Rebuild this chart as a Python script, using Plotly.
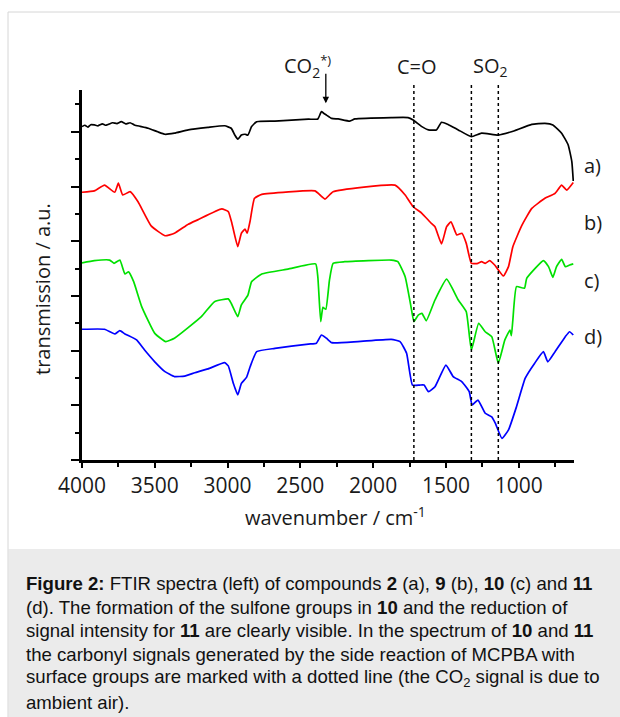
import plotly.graph_objects as go

# ---- data ----
wn_a = [4000, 3980, 3960, 3940, 3915, 3890, 3860, 3840, 3820, 3790, 3760, 3730, 3700, 3670, 3640, 3600,
        3545, 3480, 3430, 3365, 3270, 3135, 3020, 2975, 2950, 2930, 2905, 2880, 2860, 2835, 2800, 2675,
        2445, 2380, 2355, 2340, 2320, 2285, 2240, 2160, 2125, 1875, 1760, 1725, 1665, 1620, 1565, 1530,
        1485, 1415, 1325, 1255, 1140, 1050, 910, 820, 765, 705, 660, 635, 625]
t_a = [12.19, 12.24, 12.17, 12.26, 12.25, 12.22, 12.29, 12.24, 12.27, 12.33, 12.30, 12.37, 12.29, 12.33,
       12.25, 12.20, 12.13, 12.00, 11.91, 11.95, 12.07, 12.16, 12.22, 12.13, 11.88, 11.73, 11.88, 11.91,
       11.88, 12.19, 12.37, 12.39, 12.46, 12.47, 12.74, 12.68, 12.61, 12.49, 12.47, 12.39, 12.47, 12.52,
       12.52, 12.43, 12.19, 12.07, 12.07, 12.35, 12.27, 12.07, 11.82, 11.95, 11.88, 12.00, 12.27, 12.31,
       12.25, 11.95, 11.52, 10.91, 10.20]

wn_b = [4000, 3915, 3845, 3775, 3750, 3720, 3670, 3615, 3525, 3430, 3365, 3270, 3205, 3040, 2995, 2970,
        2930, 2905, 2880, 2865, 2845, 2815, 2765, 2400, 2365, 2330, 2275, 1850, 1780, 1725, 1665, 1600,
        1575, 1530, 1495, 1465, 1425, 1390, 1360, 1325, 1280, 1255, 1230, 1200, 1165, 1105, 1070, 1040,
        980, 910, 820, 750, 705, 670, 625]
t_b = [9.79, 9.84, 10.05, 9.79, 10.12, 9.69, 9.81, 9.44, 8.56, 8.20, 8.29, 8.62, 8.78, 9.18, 9.08, 8.65,
       7.80, 8.29, 8.44, 8.29, 8.74, 9.57, 9.71, 9.84, 9.69, 9.54, 9.81, 10.05, 9.69, 9.26, 9.02, 8.65,
       8.53, 7.90, 8.53, 8.71, 8.23, 8.29, 7.92, 7.19, 7.19, 7.25, 7.19, 7.29, 7.13, 6.73, 7.07, 7.80,
       8.56, 9.20, 9.57, 9.75, 10.05, 9.87, 10.15]

wn_c = [4000, 3915, 3810, 3780, 3740, 3705, 3680, 3645, 3590, 3500, 3425, 3365, 3180, 3090, 2995, 2975,
        2930, 2905, 2860, 2835, 2765, 2585, 2395, 2380, 2360, 2345, 2325, 2300, 2275, 2195, 1875, 1830,
        1780, 1740, 1720, 1690, 1665, 1635, 1575, 1495, 1415, 1360, 1325, 1275, 1230, 1185, 1140, 1095,
        1060, 1050, 1040, 1015, 960, 945, 830, 795, 765, 740, 705, 680, 650, 625]
t_c = [7.21, 7.29, 7.31, 7.19, 7.31, 6.80, 6.88, 6.52, 5.61, 4.63, 4.33, 4.45, 5.24, 5.79, 5.89, 5.73,
       5.24, 5.67, 6.03, 6.52, 6.80, 6.98, 7.17, 6.70, 5.06, 5.58, 5.51, 6.58, 7.19, 7.25, 7.31, 7.25,
       6.70, 5.61, 5.06, 5.30, 5.36, 5.09, 5.85, 6.61, 5.85, 5.42, 4.02, 5.00, 4.69, 4.51, 3.54, 4.39,
       4.75, 4.55, 5.12, 6.34, 6.28, 6.64, 7.29, 7.07, 6.68, 7.07, 7.34, 7.07, 7.13, 7.17]

wn_d = [4000, 3845, 3775, 3740, 3705, 3625, 3570, 3500, 3430, 3365, 3295, 3225, 3135, 3020, 2995, 2960,
        2930, 2905, 2870, 2845, 2800, 2675, 2445, 2390, 2355, 2320, 2285, 2105, 1875, 1815, 1770, 1730,
        1680, 1650, 1620, 1575, 1500, 1450, 1390, 1340, 1320, 1280, 1230, 1185, 1160, 1115, 1070, 1015,
        955, 890, 830, 800, 750, 680, 650, 625]
t_d = [4.78, 4.78, 4.61, 4.73, 4.61, 4.39, 4.02, 3.59, 3.23, 3.05, 3.07, 3.19, 3.33, 3.56, 3.44, 2.80,
       2.38, 2.80, 3.02, 3.41, 3.96, 4.08, 4.24, 4.27, 4.57, 4.45, 4.29, 4.33, 4.41, 4.33, 3.90, 2.74,
       2.74, 2.74, 2.50, 2.68, 3.47, 3.05, 2.86, 2.50, 2.01, 2.19, 1.71, 1.58, 1.34, 0.79, 1.10, 1.95,
       2.99, 3.54, 3.96, 3.59, 3.96, 4.51, 4.69, 4.57]

series = [("a)", wn_a, t_a, "#000000"), ("b)", wn_b, t_b, "#ff0000"),
          ("c)", wn_c, t_c, "#00e000"), ("d)", wn_d, t_d, "#0000ff")]
series_label_y = [10.78, 8.67, 6.58, 4.50]

marker_lines = [1720, 1325, 1140]  # dotted lines (C=O, SO2, SO2)
co2_pos = 2325

caption_lines = [
    "<b>Figure 2:</b> FTIR spectra (left) of compounds <b>2</b> (a), <b>9</b> (b), <b>10</b> (c) and <b>11</b>",
    "(d). The formation of the sulfone groups in <b>10</b> and the reduction of",
    "signal intensity for <b>11</b> are clearly visible. In the spectrum of <b>10</b> and <b>11</b>",
    "the carbonyl signals generated by the side reaction of MCPBA with",
    "surface groups are marked with a dotted line (the CO<sub>2</sub> signal is due to",
    "ambient air).",
]

# ---- figure ----
L, R, T, B = 82, 574, 90, 460
W, H = 620, 717
pw, ph = R - L, B - T

def px(x):
    return (x - L) / pw

def py(y):
    return (B - y) / ph

AX_FONT = "Open Sans, DejaVu Sans, sans-serif"
fig = go.Figure()
for name, x, y, c in series:
    fig.add_trace(go.Scatter(x=x, y=y, mode="lines", name=name,
                             line=dict(color=c, width=1.7, shape="spline", smoothing=0.4),
                             showlegend=False))

shapes = []
# caption box + frame
shapes.append(dict(type="rect", xref="paper", yref="paper", x0=px(8.5), x1=px(640), y0=py(549), y1=py(730),
                   fillcolor="#ebebeb", line=dict(width=0), layer="below"))
shapes.append(dict(type="line", xref="paper", yref="paper", x0=px(8), x1=px(640), y0=py(12), y1=py(12),
                   line=dict(color="#d6d6d6", width=1)))
shapes.append(dict(type="line", xref="paper", yref="paper", x0=px(8), x1=px(8), y0=py(12), y1=py(730),
                   line=dict(color="#d6d6d6", width=1)))
for xv in marker_lines:
    shapes.append(dict(type="line", xref="x", yref="paper", x0=xv, x1=xv, y0=0, y1=py(83),
                       line=dict(color="black", width=1.5, dash="dot")))

ann = []
lab_font = dict(family=AX_FONT, size=20, color="#1a1a1a")
ann.append(dict(xref="paper", yref="paper", x=px(307), y=py(67),
                text="CO<sub>2</sub><sup><span style='font-size:13px'>*)</span></sup>",
                showarrow=False, font=lab_font, xanchor="center", yanchor="middle"))
ann.append(dict(xref="paper", yref="paper", x=px(417), y=py(67), text="C=O",
                showarrow=False, font=lab_font, xanchor="center", yanchor="middle"))
ann.append(dict(xref="paper", yref="paper", x=px(490), y=py(67), text="SO<sub>2</sub>",
                showarrow=False, font=lab_font, xanchor="center", yanchor="middle"))
ann.append(dict(xref="x", yref="y", x=co2_pos, y=13.04, ax=0, ay=-31, text="", showarrow=True,
                arrowhead=2, arrowsize=1, arrowwidth=1.3, arrowcolor="black"))
for (name, *_), yv in zip(series, series_label_y):
    ann.append(dict(xref="paper", yref="y", x=px(582), y=yv, text=name, showarrow=False,
                    font=lab_font, xanchor="left", yanchor="middle"))
ann.append(dict(xref="paper", yref="paper", x=px(42), y=py(289), text="transmission / a.u.",
                textangle=-90, showarrow=False, font=lab_font, xanchor="center", yanchor="middle"))
ann.append(dict(xref="paper", yref="paper", x=px(335), y=py(516), text="wavenumber / cm<sup>-1</sup>",
                showarrow=False, font=lab_font, xanchor="center", yanchor="middle"))
cap_y = [583, 607, 630, 654, 678, 702]
for line, yy in zip(caption_lines, cap_y):
    ann.append(dict(xref="paper", yref="paper", x=px(24), y=py(yy), text=line, showarrow=False,
                    font=dict(family="Liberation Sans, Arial, sans-serif", size=18.6, color="#111111"),
                    xanchor="left", yanchor="middle", align="left"))

fig.update_layout(
    width=W, height=H, margin=dict(l=L, r=W - R, t=T, b=H - B),
    paper_bgcolor="white", plot_bgcolor="white",
    shapes=shapes, annotations=ann,
    xaxis=dict(range=[4000, 620], tickmode="linear", tick0=0, dtick=500,
               showgrid=False, zeroline=False, showline=True, linecolor="black", linewidth=2.5,
               ticks="outside", ticklen=5, tickwidth=1.5, tickcolor="black",
               minor=dict(dtick=250, ticks="outside", ticklen=4, tickwidth=1.5, tickcolor="black"),
               tickfont=dict(family=AX_FONT, size=21, color="#1a1a1a")),
    yaxis=dict(range=[0, (B - T) / 27.35], tickmode="linear", tick0=0, dtick=2,
               showgrid=False, zeroline=False, showline=True, linecolor="black", linewidth=2.5,
               ticks="outside", ticklen=8, tickwidth=1.5, tickcolor="black", showticklabels=False,
               minor=dict(dtick=1, ticks="outside", ticklen=4, tickwidth=1.5, tickcolor="black")),
)

fig.write_html("out.html", config={"displayModeBar": False},
               post_script="document.body.style.margin='0';")
